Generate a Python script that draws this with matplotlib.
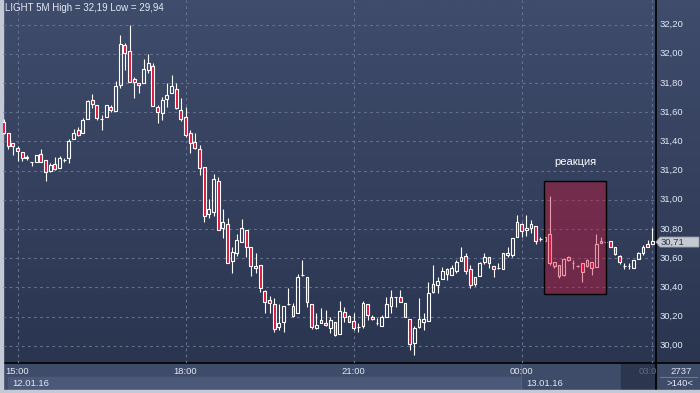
import numpy as np
import matplotlib
matplotlib.use("Agg")
import matplotlib.pyplot as plt
from matplotlib.patches import Rectangle, Polygon
from matplotlib.colors import LinearSegmentedColormap

# 5-minute bars of LIGHT, 12.01.16 14:45 .. 13.01.16 02:20 (bar index = position)
opens = [31.53, 31.455, 31.386, 31.354, 31.324, 31.283, 31.26, 31.26, 31.31, 31.272,
         31.199, 31.242, 31.219, 31.272, 31.288, 31.413, 31.477, 31.454, 31.55, 31.683,
         31.649, 31.55, 31.564, 31.633, 31.605, 31.783, 32.06, 32.018, 31.824, 31.797,
         31.797, 31.888, 31.916, 31.633, 31.592, 31.692, 31.733, 31.756, 31.614, 31.564,
         31.455, 31.393, 31.345, 31.222, 30.9, 30.918, 31.128, 30.804, 30.831, 30.582,
         30.633, 30.713, 30.792, 30.674, 30.53, 30.553, 30.375, 30.313, 30.286, 30.13,
         30.16, 30.286, 30.272, 30.226, 30.484, 30.471, 30.286, 30.119, 30.153, 30.155,
         30.119, 30.162, 30.078, 30.229, 30.206, 30.171, 30.13, 30.135, 30.283, 30.199,
         30.158, 30.137, 30.199, 30.272, 30.331, 30.336, 30.29, 30.181, 30.021, 30.13,
         30.16, 30.171, 30.37, 30.416, 30.455, 30.523, 30.484, 30.509, 30.582, 30.612,
         30.528, 30.42, 30.48, 30.571, 30.605, 30.548, 30.53, 30.523, 30.621, 30.621,
         30.742, 30.831, 30.792, 30.804, 30.822, 30.731, 30.719, 30.763, 30.571, 30.553,
         30.484, 30.605, 30.569, 30.546, 30.564, 30.546, 30.571, 30.537, 30.719, 30.708,
         30.717, 30.678, 30.614, 30.548, 30.548, 30.53, 30.592, 30.633, 30.694, 30.694]
highs = [31.55, 31.46, 31.386, 31.368, 31.324, 31.306, 31.26, 31.306, 31.347, 31.272,
         31.249, 31.295, 31.299, 31.283, 31.416, 31.482, 31.496, 31.557, 31.683, 31.724,
         31.649, 31.58, 31.646, 31.649, 31.813, 32.128, 32.071, 32.197, 31.838, 31.802,
         31.961, 32.0, 31.934, 31.649, 31.701, 31.797, 31.854, 31.797, 31.694, 31.633,
         31.477, 31.455, 31.375, 31.222, 31.003, 31.176, 31.153, 30.934, 30.872, 30.678,
         30.765, 30.868, 30.792, 30.678, 30.633, 30.553, 30.382, 30.34, 30.324, 30.286,
         30.272, 30.393, 30.29, 30.491, 30.587, 30.471, 30.286, 30.226, 30.256, 30.245,
         30.199, 30.162, 30.306, 30.263, 30.21, 30.222, 30.153, 30.306, 30.283, 30.21,
         30.188, 30.21, 30.331, 30.382, 30.336, 30.382, 30.29, 30.181, 30.135, 30.324,
         30.222, 30.434, 30.553, 30.473, 30.541, 30.53, 30.553, 30.587, 30.674, 30.633,
         30.553, 30.468, 30.576, 30.633, 30.605, 30.548, 30.564, 30.633, 30.678, 30.735,
         30.895, 30.843, 30.895, 30.861, 30.822, 30.742, 30.742, 31.028, 30.576, 30.553,
         30.598, 30.614, 30.587, 30.553, 30.564, 30.592, 30.571, 30.763, 30.742, 30.708,
         30.717, 30.678, 30.621, 30.564, 30.564, 30.587, 30.644, 30.69, 30.724, 30.808]
lows = [31.45, 31.345, 31.306, 31.267, 31.267, 31.272, 31.233, 31.26, 31.26, 31.13,
        31.192, 31.203, 31.219, 31.26, 31.254, 31.413, 31.436, 31.454, 31.55, 31.626,
        31.546, 31.477, 31.564, 31.603, 31.605, 31.763, 31.888, 31.808, 31.699, 31.733,
        31.797, 31.866, 31.644, 31.523, 31.546, 31.637, 31.729, 31.619, 31.541, 31.432,
        31.322, 31.347, 31.169, 30.85, 30.872, 30.888, 30.792, 30.735, 30.564, 30.5,
        30.614, 30.713, 30.61, 30.48, 30.5, 30.37, 30.226, 30.226, 30.096, 30.107,
        30.096, 30.279, 30.199, 30.226, 30.48, 30.263, 30.112, 30.112, 30.153, 30.135,
        30.085, 30.066, 30.078, 30.165, 30.16, 30.107, 30.096, 30.119, 30.176, 30.176,
        30.142, 30.137, 30.194, 30.226, 30.263, 30.302, 30.194, 29.971, 29.936, 30.119,
        30.107, 30.171, 30.359, 30.359, 30.455, 30.45, 30.484, 30.496, 30.582, 30.491,
        30.393, 30.409, 30.48, 30.56, 30.53, 30.468, 30.525, 30.523, 30.605, 30.605,
        30.742, 30.742, 30.751, 30.77, 30.697, 30.719, 30.719, 30.553, 30.53, 30.466,
        30.48, 30.582, 30.523, 30.541, 30.439, 30.541, 30.484, 30.537, 30.701, 30.708,
        30.674, 30.619, 30.56, 30.528, 30.528, 30.53, 30.592, 30.621, 30.678, 30.694]
closes = [31.46, 31.368, 31.368, 31.331, 31.283, 31.295, 31.26, 31.306, 31.26, 31.192,
          31.238, 31.21, 31.288, 31.272, 31.404, 31.454, 31.443, 31.546, 31.678, 31.653,
          31.562, 31.55, 31.646, 31.614, 31.779, 32.066, 32.002, 31.808, 31.806, 31.783,
          31.893, 31.934, 31.644, 31.603, 31.683, 31.715, 31.779, 31.626, 31.55, 31.441,
          31.386, 31.352, 31.215, 30.891, 30.934, 31.14, 30.792, 30.845, 30.569, 30.64,
          30.724, 30.804, 30.678, 30.546, 30.546, 30.393, 30.302, 30.29, 30.112, 30.153,
          30.272, 30.286, 30.206, 30.471, 30.484, 30.302, 30.13, 30.142, 30.176, 30.142,
          30.176, 30.073, 30.24, 30.199, 30.16, 30.119, 30.13, 30.29, 30.21, 30.181,
          30.158, 30.194, 30.283, 30.336, 30.331, 30.302, 30.194, 30.012, 30.119, 30.181,
          30.183, 30.359, 30.42, 30.443, 30.512, 30.489, 30.53, 30.571, 30.605, 30.509,
          30.416, 30.468, 30.564, 30.61, 30.564, 30.525, 30.53, 30.633, 30.637, 30.735,
          30.845, 30.786, 30.808, 30.833, 30.719, 30.731, 30.742, 30.564, 30.546, 30.48,
          30.594, 30.587, 30.569, 30.546, 30.507, 30.587, 30.53, 30.694, 30.706, 30.708,
          30.674, 30.628, 30.571, 30.548, 30.548, 30.587, 30.633, 30.678, 30.678, 30.717]

time_labels = ['15:00', '18:00', '21:00', '00:00']
time_bars = [3, 39, 75, 111]
date_labels = ['12.01.16', '13.01.16']
price_ticks = [30.0, 30.2, 30.4, 30.6, 30.8, 31.0, 31.2, 31.4, 31.6, 31.8, 32.0, 32.2]
title = 'LIGHT 5M High = 32,19 Low = 29,94'
last_price = 30.71
box_bars = (115.9, 129.0)
box_prices = (30.352, 31.13)

W, H = 700, 393
fig = plt.figure(figsize=(W / 100, H / 100), dpi=100)
plt.rcParams['font.family'] = ['Liberation Sans', 'DejaVu Sans']


def fx(x):
    return x / W


def fy(y):
    return 1 - y / H


# full-figure background drawn in pixel coords
bg = fig.add_axes([0, 0, 1, 1])
bg.set_xlim(0, W)
bg.set_ylim(H, 0)
bg.axis('off')
grad = LinearSegmentedColormap.from_list('g', ['#3f4c6b', '#2a3550'])
bg.imshow(np.linspace(0, 1, 256).reshape(-1, 1), cmap=grad, aspect='auto',
          extent=(0, W, 363, 0), zorder=0)
bg.add_patch(Rectangle((0, 363), W, 30, color='#3e4b69', zorder=1))
bg.add_patch(Rectangle((8, 377), 513, 13, color='#4b5877', zorder=1))
bg.add_patch(Rectangle((621, 364), 35, 27, color='#2c374f', zorder=1))
bg.add_patch(Rectangle((0, 0), 3, H, color='#c3cad5', zorder=3))
bg.add_patch(Rectangle((0, 390), W, 3, color='#c3cad5', zorder=3))
bg.plot([3, W], [363, 363], color='black', lw=1.2, zorder=2)
bg.plot([656, 656], [0, 390], color='black', lw=1.2, zorder=2)
bg.plot([521, 521], [364, 390], color='#56627d', lw=0.8, zorder=2)
bg.plot([660, 697], [377, 377], color='#6b7791', lw=0.8, zorder=2)

# candlestick panel
ax = fig.add_axes([fx(3), fy(363), fx(653), 363 / H])
ax.set_facecolor('none')
x_per_bar = 4.667
ax.set_xlim(-0.5 / x_per_bar, (656 - 3.5) / x_per_bar)
ax.set_ylim(32.2 - 338.5 / 146, 32.2 + 24.5 / 146)
ax.axis('off')

grid_kw = dict(color='#63708e', lw=0.8, ls=(0, (2.5, 3)), zorder=1)
for p in price_ticks:
    ax.axhline(p, **grid_kw)
for b in time_bars + [139]:
    ax.axvline(b, **grid_kw)

o = np.array(opens)
h = np.array(highs)
l = np.array(lows)
c = np.array(closes)
idx = np.arange(len(o))
top = np.maximum(o, c)
bot = np.minimum(o, c)
ax.vlines(idx, top, h, color='white', lw=0.8, zorder=3)
ax.vlines(idx, l, bot, color='white', lw=0.8, zorder=3)
up = c >= o
ax.bar(idx[up], (top - bot)[up], bottom=bot[up], width=0.58, facecolor='none',
       edgecolor='white', lw=0.8, zorder=4)
ax.bar(idx[~up], (top - bot)[~up], bottom=bot[~up], width=0.58, facecolor='#dc143c',
       edgecolor='white', lw=0.8, zorder=4)

ax.add_patch(Rectangle((box_bars[0], box_prices[0]), box_bars[1] - box_bars[0],
                       box_prices[1] - box_prices[0], facecolor=(0.8, 0.07, 0.22, 0.42),
                       edgecolor='black', lw=1, zorder=6))
ax.text(sum(box_bars) / 2, 31.255, 'реакция', color='white', fontsize=8,
        ha='center', va='center', zorder=7)

# texts
lab = '#e2e9f6'
fig.text(fx(5), fy(8), title, color=lab, fontsize=7, va='center', ha='left')
for p in price_ticks:
    y = 24.5 + (32.2 - p) * 146
    fig.text(fx(660), fy(y), f'{p:.2f}'.replace('.', ','), color=lab,
             fontsize=6.8, va='center', ha='left')
for t, b in zip(time_labels, time_bars):
    fig.text(fx(3.5 + x_per_bar * b), fy(371.5), t, color=lab, fontsize=6.8,
             va='center', ha='center')
fig.text(fx(639), fy(371.5), '03:0', color='#5b6983', fontsize=6.8, va='center')
fig.text(fx(12), fy(383.5), date_labels[0], color=lab, fontsize=6.8, va='center')
fig.text(fx(526), fy(383.5), date_labels[1], color=lab, fontsize=6.8, va='center')
fig.text(fx(681), fy(371), '2737', color=lab, fontsize=6.8, va='center', ha='center')
fig.text(fx(680), fy(384), '>140<', color=lab, fontsize=6.8, va='center', ha='center')

# last price tag
ty = 24.5 + (32.2 - last_price) * 146
bg.add_patch(Polygon([(656, ty), (660, ty - 5), (699, ty - 5), (699, ty + 5), (660, ty + 5)],
                     closed=True, facecolor='#c5c9d1', edgecolor='#9aa0ab', lw=0.6, zorder=5))
fig.text(fx(661), fy(ty), f'{last_price:.2f}'.replace('.', ','), color='#2a3550',
         fontsize=6.8, va='center', ha='left', zorder=10)

fig.savefig('out.png', dpi=100)
